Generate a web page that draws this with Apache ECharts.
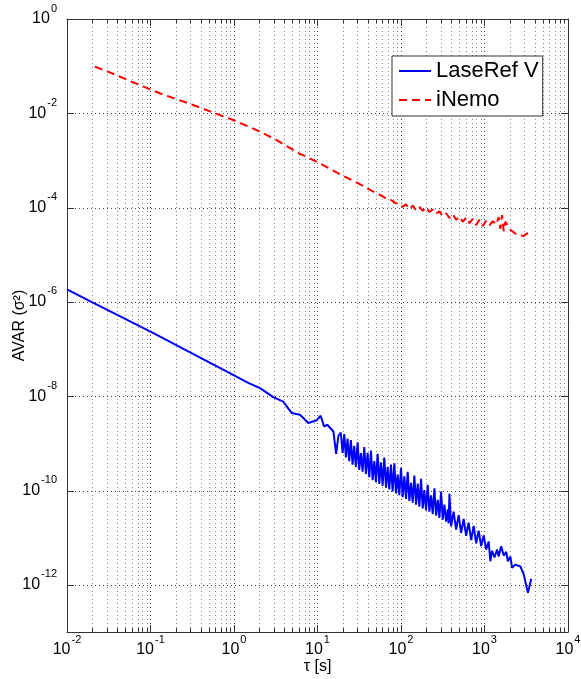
<!DOCTYPE html>
<html>
<head>
<meta charset="utf-8">
<script src="https://cdn.jsdelivr.net/npm/echarts@6/dist/echarts.min.js"></script>
<style>
  html, body { margin: 0; padding: 0; background: #fff; }
  #chart { width: 581px; height: 679px; }
</style>
</head>
<body>
<div id="chart"></div>
<script>
// Allan variance curves
const blueTau = [
  0.01, 0.0196, 0.1, 0.89, 1.5, 2.05, 2.95, 3.89, 4.91, 6.17, 7.76, 9.78, 10.9, 12.0, 13.1, 15.5, 16.7, 17.8, 19.0,
  20.0, 20.9, 21.9, 22.9, 24.0, 25.1, 26.3, 27.5, 28.8, 30.2, 31.6, 33.1, 34.7, 36.3, 38.0, 39.8, 41.7, 43.7, 45.7, 47.9,
  50.1, 52.5, 55.0, 57.5, 60.3, 63.1, 66.1, 69.2, 72.4, 75.9, 79.4, 83.2, 87.1, 91.2, 95.5, 100, 104.7, 109.6, 114.8, 120.2,
  125.9, 131.8, 138.0, 144.5, 151.4, 158.5, 166.0, 173.8, 182.0, 190.5, 199.5, 208.9, 218.8, 229.1, 239.9, 251.2, 263.0,
  275.4, 288.4, 302.0, 316.2, 331.1, 346.7, 363.1, 371.5, 380.2, 398.1, 426.6, 457.1, 489.8, 524.8, 562.3, 602.6, 645.7,
  691.8, 741.3, 794.3, 851.1, 912.0, 977.2, 1047, 1122, 1175, 1230, 1318, 1413, 1479, 1585, 1698, 1820, 1905, 2042, 2138,
  2344, 2692, 2951, 3311, 3631
];
const blueAvar = [
  1.85e-6, 1.0e-6, 2.35e-7, 3.1e-8, 1.9e-8, 1.49e-8, 9.6e-9, 7.7e-9, 4.4e-9, 4.05e-9, 2.7e-9, 3.1e-9, 3.85e-9, 2.29e-9, 2.48e-9, 1.79e-9, 6.0e-10, 1.45e-9, 1.70e-9,
  6.31e-10, 1.58e-9, 5.01e-10, 1.26e-9, 4.17e-10, 1.17e-9, 3.55e-10, 8.91e-10, 3.16e-10, 1.05e-9, 2.75e-10, 6.2e-10, 2.51e-10, 8.32e-10, 2.24e-10, 6.31e-10, 1.91e-10, 7.08e-10, 1.66e-10, 4.2e-10,
  1.51e-10, 6.03e-10, 1.38e-10, 3.98e-10, 1.26e-10, 5.01e-10, 1.15e-10, 3.2e-10, 1.05e-10, 3.55e-10, 9.55e-11, 3.80e-10, 8.71e-11, 2.2e-10, 7.94e-11, 3.02e-10, 7.24e-11, 2.00e-10, 6.61e-11, 2.51e-10,
  6.03e-11, 1.46e-10, 5.50e-11, 2.09e-10, 5.01e-11, 1.41e-10, 4.57e-11, 1.78e-10, 4.17e-11, 1.02e-10, 3.80e-11, 1.32e-10, 3.55e-11, 7.94e-11, 3.16e-11, 1.12e-10, 2.95e-11,
  6.31e-11, 2.63e-11, 9.55e-11, 2.40e-11, 5.01e-11, 2.19e-11, 4.0e-11, 2.0e-11, 8.51e-11, 1.74e-11, 3.55e-11, 1.48e-11, 3.02e-11, 1.26e-11, 2.51e-11, 1.10e-11, 2.09e-11,
  8.91e-12, 1.78e-11, 7.59e-12, 1.41e-11, 6.61e-12, 1.12e-11, 5.62e-12, 8.32e-12, 3.16e-12, 5.25e-12, 3.80e-12, 5.62e-12, 3.98e-12, 6.61e-12, 4.17e-12, 5.01e-12, 3.16e-12, 3.98e-12, 2.29e-12,
  2.69e-12, 2.45e-12, 1.66e-12, 6.76e-13, 1.35e-12
];
const redTau = [
  0.0215, 0.0325, 0.059, 0.129, 0.324, 0.618, 0.977, 2.05, 3.24, 6.0, 10, 19.5, 31.6, 51,
  60.3, 67.6, 75.9, 85.1, 95.5, 104.7, 114.8, 125.9, 138.0, 151.4, 166.0, 182.0, 199.5, 218.8, 239.9, 263.0,
  288.4, 316.2, 346.7, 380.2, 416.9, 457.1, 501.2, 549.5, 602.6, 660.7, 724.4, 794.3, 871.0, 955.0, 1047,
  1148, 1259, 1380, 1479, 1549, 1622, 1698, 1778, 2042, 2455, 2951, 3467
];
const redAvar = [
  0.0975, 0.074, 0.047, 0.0266, 0.0150, 0.0097, 0.0072, 0.0041, 0.0027, 0.00142, 9.2e-4, 4.9e-4, 3.2e-4, 2.0e-4,
  1.74e-4, 1.51e-4, 1.45e-4, 1.26e-4, 1.20e-4, 1.05e-4, 1.17e-4, 9.33e-5, 1.10e-4, 8.91e-5, 1.05e-4, 8.51e-5, 1.02e-4, 8.13e-5, 9.12e-5, 7.41e-5,
  8.32e-5, 6.61e-5, 7.59e-5, 6.03e-5, 7.24e-5, 5.50e-5, 6.46e-5, 5.01e-5, 6.17e-5, 4.68e-5, 5.75e-5, 4.27e-5, 5.50e-5, 4.07e-5, 5.25e-5,
  4.27e-5, 5.13e-5, 4.37e-5, 6.31e-5, 3.55e-5, 6.92e-5, 3.16e-5, 5.01e-5, 3.39e-5, 2.63e-5, 2.51e-5, 3.09e-5
];
const seriesNames = ['LaseRef V', 'iNemo'];

// axis ranges, labelled y decades and the 2..9 minor grid positions of the x axis
const xMin = 1e-2, xMax = 1e4;
const yMin = 1e-13, yMax = 1;
const yMajor = [1e-12, 1e-10, 1e-8, 1e-6, 1e-4, 1e-2, 1];
const decades = [0.01, 0.1, 1, 10, 100, 1000];
const minorSteps = [2, 3, 4, 5, 6, 7, 8, 9];
const minorTau = [];
decades.forEach(d => minorSteps.forEach(k => minorTau.push(+(d * k).toPrecision(3))));

const font = 'Liberation Sans, Arial, sans-serif';
const axisColor = '#333';
const majorGrid = '#444';

function powText(e) {
  return '{b|10}{s|' + e + '}';
}
function xLabel(v) {
  return powText(Math.round(Math.log10(v)));
}
function yLabel(v) {
  const e = Math.round(Math.log10(v));
  return e % 2 === 0 ? powText(e) : '';
}
const powRich = {
  b: { fontSize: 16, fontFamily: font, color: '#000', lineHeight: 24, verticalAlign: 'bottom' },
  s: { fontSize: 11, fontFamily: font, color: '#000', verticalAlign: 'top', padding: [0, 0, 0, 1] }
};

const chart = echarts.init(document.getElementById('chart'), null, { renderer: 'canvas' });

chart.setOption({
  animation: false,
  backgroundColor: '#fff',
  textStyle: { fontFamily: font },
  grid: { left: 67, right: 13, top: 19, bottom: 47, containLabel: false, outerBoundsMode: 'none' },
  legend: {
    data: seriesNames,
    orient: 'vertical',
    left: 392, top: 56,
    itemWidth: 32, itemHeight: 14, itemGap: 5,
    padding: [3, 4, 4, 6],
    backgroundColor: '#fff',
    borderColor: axisColor, borderWidth: 1, borderRadius: 0,
    selectedMode: false,
    itemStyle: { color: 'rgba(0,0,0,0)', borderWidth: 0, opacity: 0 },
    textStyle: { fontSize: 22, lineHeight: 24, color: '#000', fontFamily: font }
  },
  xAxis: [
    {
      type: 'log', min: xMin, max: xMax, interval: 1,
      name: 'τ [s]', nameLocation: 'middle', nameGap: 27, nameMoveOverlap: false,
      nameTextStyle: { fontSize: 16, color: '#000', fontFamily: font },
      axisLine: { lineStyle: { color: axisColor } },
      axisTick: { inside: true, length: 7, lineStyle: { color: axisColor } },
      axisLabel: { margin: 2, formatter: xLabel, rich: powRich },
      splitLine: { show: true, lineStyle: { color: majorGrid, type: [1, 3] } }
    },
    {
      type: 'log', min: xMin, max: xMax, interval: 1, position: 'top',
      axisLine: { lineStyle: { color: axisColor } },
      axisTick: { inside: true, length: 7, lineStyle: { color: axisColor } },
      axisLabel: { show: false },
      splitLine: { show: false }
    }
  ],
  yAxis: [
    {
      type: 'log', min: yMin, max: yMax, interval: 1,
      name: 'AVAR (σ²)', nameLocation: 'middle', nameGap: 39, nameMoveOverlap: false,
      nameTextStyle: { fontSize: 16, color: '#000', fontFamily: font },
      axisLine: { lineStyle: { color: axisColor } },
      axisTick: { show: false },
      axisLabel: { margin: 10, formatter: yLabel, rich: powRich, padding: [0, 0, 8, 0] },
      splitLine: { show: false }
    },
    {
      type: 'log', min: yMin, max: yMax, interval: 1, position: 'right',
      axisLine: { lineStyle: { color: axisColor } },
      axisTick: { show: false },
      axisLabel: { show: false },
      splitLine: { show: false }
    }
  ],
  series: [
    {
      // minor x grid lines and minor ticks at 2..9 of each decade
      type: 'custom',
      name: 'minorX',
      silent: true,
      z: 1,
      data: minorTau.map(v => [v, yMin]),
      renderItem: function (params, api) {
        const top = api.coord([api.value(0), yMax]);
        const bot = api.coord([api.value(0), yMin]);
        const x = Math.round(top[0]) + 0.5;
        return {
          type: 'group',
          children: [
            { type: 'line', shape: { x1: x, y1: top[1], x2: x, y2: bot[1] }, style: { stroke: '#8a8a8a', lineWidth: 1, lineDash: [1, 3] } },
            { type: 'line', shape: { x1: x, y1: bot[1], x2: x, y2: bot[1] - 4 }, style: { stroke: axisColor, lineWidth: 1 } },
            { type: 'line', shape: { x1: x, y1: top[1], x2: x, y2: top[1] + 4 }, style: { stroke: axisColor, lineWidth: 1 } }
          ]
        };
      }
    },
    {
      // y grid lines and ticks every second decade
      type: 'custom',
      name: 'majorY',
      silent: true,
      z: 1,
      data: yMajor.map(v => [xMin, v]),
      renderItem: function (params, api) {
        const l = api.coord([xMin, api.value(1)]);
        const r = api.coord([xMax, api.value(1)]);
        const y = Math.round(l[1]) + 0.5;
        return {
          type: 'group',
          children: [
            { type: 'line', shape: { x1: l[0], y1: y, x2: r[0], y2: y }, style: { stroke: majorGrid, lineWidth: 1, lineDash: [1, 3] } },
            { type: 'line', shape: { x1: l[0], y1: y, x2: l[0] + 7, y2: y }, style: { stroke: axisColor, lineWidth: 1 } },
            { type: 'line', shape: { x1: r[0], y1: y, x2: r[0] - 7, y2: y }, style: { stroke: axisColor, lineWidth: 1 } }
          ]
        };
      }
    },
    {
      name: seriesNames[0],
      type: 'line',
      symbol: 'none',
      z: 3,
      data: blueTau.map((t, i) => [t, blueAvar[i]]),
      itemStyle: { color: '#0000ff' },
      lineStyle: { color: '#0000ff', width: 2 }
    },
    {
      name: seriesNames[1],
      type: 'line',
      symbol: 'none',
      z: 3,
      data: redTau.map((t, i) => [t, redAvar[i]]),
      itemStyle: { color: '#ff0000' },
      lineStyle: { color: '#ff0000', width: 2, type: [8, 5] }
    }
  ]
});
</script>
</body>
</html>
